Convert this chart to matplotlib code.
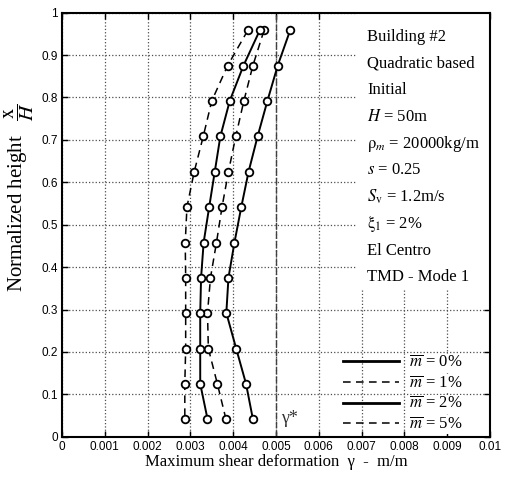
import matplotlib
matplotlib.use("Agg")
import matplotlib.pyplot as plt
from matplotlib.lines import Line2D
from matplotlib.patches import Rectangle

plt.rcParams['font.family'] = ['Liberation Serif', 'DejaVu Serif']
plt.rcParams['mathtext.fontset'] = 'stix'

# ---- data ----
heights = [0.958, 0.875, 0.792, 0.708, 0.625, 0.542, 0.458, 0.375, 0.292, 0.208, 0.125, 0.042]
gamma_m0 = [0.00533, 0.00504, 0.00480, 0.00457, 0.00436, 0.00419, 0.00403, 0.00389, 0.00384, 0.00407, 0.00430, 0.00446]
gamma_m1 = [0.00472, 0.00446, 0.00425, 0.00406, 0.00389, 0.00374, 0.00361, 0.00347, 0.00340, 0.00342, 0.00363, 0.00383]
gamma_m2 = [0.00462, 0.00424, 0.00392, 0.00370, 0.00357, 0.00344, 0.00331, 0.00325, 0.00323, 0.00323, 0.00323, 0.00340]
gamma_m5 = [0.00434, 0.00387, 0.00350, 0.00330, 0.00309, 0.00292, 0.00288, 0.00289, 0.00289, 0.00289, 0.00287, 0.00287]
gamma_star = 0.005
series_labels = [r'$\overline{m}$ = 0%', r'$\overline{m}$ = 1%', r'$\overline{m}$ = 2%', r'$\overline{m}$ = 5%']
x_ticks = [0, 0.001, 0.002, 0.003, 0.004, 0.005, 0.006, 0.007, 0.008, 0.009, 0.01]
x_tick_labels = ['0', '0.001', '0.002', '0.003', '0.004', '0.005', '0.006', '0.007', '0.008', '0.009', '0.01']
y_ticks = [0, 0.1, 0.2, 0.3, 0.4, 0.5, 0.6, 0.7, 0.8, 0.9, 1.0]
y_tick_labels = ['0', '0.1', '0.2', '0.3', '0.4', '0.5', '0.6', '0.7', '0.8', '0.9', '1']
info_lines = ['Building #2', 'Quadratic based', 'Initial', r'$H$ = 50m',
              r'$\mathrm{\rho}_m$ = 20000kg/m', r'$s$ = 0.25', r'$S_\mathrm{v}$ = 1.2m/s',
              r'$\mathrm{\xi}_1$ = 2%', 'El Centro', 'TMD - Mode 1']

fig = plt.figure(figsize=(5.06, 4.83), dpi=100)
ax = fig.add_axes([0.1225, 0.0958, 0.8458, 0.878])

solid_lw = 1.4
dash_lw = 1.1
mk = dict(marker='o', markersize=5.5, markerfacecolor='white', markeredgecolor='black', markeredgewidth=1.3)

ax.plot(gamma_m0, heights, color='black', lw=solid_lw, zorder=3, **mk)
ax.plot(gamma_m1, heights, color='black', lw=dash_lw, dashes=(5, 3.5), zorder=3, **mk)
ax.plot(gamma_m2, heights, color='black', lw=solid_lw, zorder=3, **mk)
ax.plot(gamma_m5, heights, color='black', lw=dash_lw, dashes=(5, 3.5), zorder=3, **mk)

ax.axvline(gamma_star, color='0.25', lw=1.0, dashes=(5, 1.5), zorder=2)
ax.text(gamma_star + 0.00012, 0.043, 'γ*', fontsize=13, color='0.2', va='center', ha='left')

ax.set_xlim(0, 0.01)
ax.set_ylim(0, 1)
ax.set_xticks(x_ticks)
ax.set_xticklabels(x_tick_labels)
ax.set_yticks(y_ticks)
ax.set_yticklabels(y_tick_labels)
for lab in ax.get_xticklabels() + ax.get_yticklabels():
    lab.set_family('Liberation Sans')
    lab.set_fontsize(8.5)
ax.tick_params(direction='in', top=True, right=True, length=4, width=1.0, pad=3)

ax.set_axisbelow(True)
ax.grid(True, linestyle=':', color='0.3', lw=0.9)
for s in ax.spines.values():
    s.set_linewidth(1.5)

# white background behind the info text
ax.add_patch(Rectangle((0.689, 0.345), 0.311, 0.655, transform=ax.transAxes,
                       facecolor='white', edgecolor='none', zorder=1))
for i, line in enumerate(info_lines):
    ax.text(0.7126, 0.943 - i * 0.0630, line, transform=ax.transAxes, fontsize=12,
            va='center', ha='left', zorder=4)

ax.set_xlabel('Maximum shear deformation  γ  -  m/m', fontsize=12, labelpad=1)
ax.set_ylabel(r'Normalized height   $\dfrac{\mathrm{x}}{H}$', fontsize=15)
ax.yaxis.set_label_coords(-0.06, 0.565)

handles = [Line2D([], [], color='black', lw=2.0),
           Line2D([], [], color='black', lw=1.1, dashes=(5, 3.5)),
           Line2D([], [], color='black', lw=2.0),
           Line2D([], [], color='black', lw=1.1, dashes=(5, 3.5))]
leg = ax.legend(handles, series_labels, loc='lower right', bbox_to_anchor=(0.96, -0.015),
                frameon=False, fontsize=12, handlelength=3.4, handletextpad=0.6,
                labelspacing=0.27, borderaxespad=0.2)
for t in leg.get_texts():
    t.set_bbox(dict(facecolor='white', edgecolor='none', pad=1))

fig.savefig('out.png', dpi=100)
